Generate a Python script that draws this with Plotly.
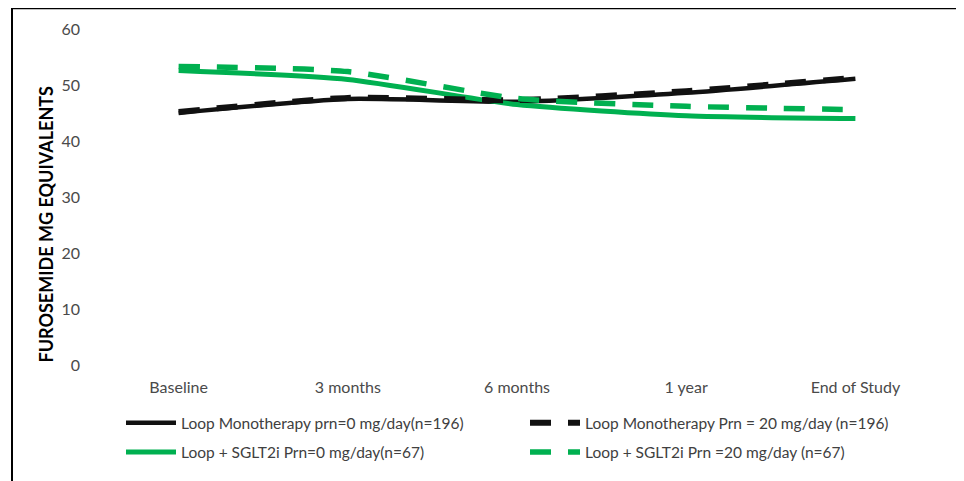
import plotly.graph_objects as go

categories = ["Baseline", "3 months", "6 months", "1 year", "End of Study"]
loop_mono_prn0 = [45.0, 47.5, 47.0, 48.6, 51.1]
loop_mono_prn20 = [45.2, 47.7, 47.3, 48.9, 51.3]
sglt2_prn0 = [52.6, 51.0, 46.5, 44.5, 44.0]
sglt2_prn20 = [53.3, 52.4, 47.6, 46.2, 45.6]

names = [
    "Loop Monotherapy prn=0 mg/day(n=196)",
    "Loop Monotherapy Prn = 20 mg/day (n=196)",
    "Loop + SGLT2i Prn=0 mg/day(n=67)",
    "Loop + SGLT2i Prn =20 mg/day (n=67)",
]
y_title = "FUROSEMIDE MG EQUIVALENTS"
y_ticks = [0, 10, 20, 30, 40, 50, 60]

BLACK = "#111111"
GREEN = "#00B050"
FONT = "Lato, Carlito, Calibri, sans-serif"
SMOOTH = 0.6

fig = go.Figure()
fig.add_trace(go.Scatter(x=categories, y=loop_mono_prn0, name=names[0], mode="lines",
                         line=dict(color=BLACK, width=4.5, shape="spline", smoothing=SMOOTH),
                         legend="legend", legendgroup="a"))
fig.add_trace(go.Scatter(x=categories, y=sglt2_prn0, name=names[2], mode="lines",
                         line=dict(color=GREEN, width=5, shape="spline", smoothing=SMOOTH),
                         legend="legend", legendgroup="b"))
fig.add_trace(go.Scatter(x=categories, y=loop_mono_prn20, name=names[1], mode="lines",
                         line=dict(color=BLACK, width=6, dash="21px,17px", shape="spline", smoothing=SMOOTH),
                         legend="legend2", legendgroup="c"))
fig.add_trace(go.Scatter(x=categories, y=sglt2_prn20, name=names[3], mode="lines",
                         line=dict(color=GREEN, width=5.5, dash="21px,17px", shape="spline", smoothing=SMOOTH),
                         legend="legend2", legendgroup="d"))

# page body has an 8px margin; work in page pixel coordinates and convert
OFF = 8
W, H = 964 - OFF, 481 - OFF
L = 94 - OFF
T = 29 - OFF
R = W - (940 - OFF)
B = H - (371 - OFF)
pw, ph = W - L - R, H - T - B

def px_x(x):
    return (x - OFF - L) / pw

def px_y(y):
    return (H - B - (y - OFF)) / ph

legend_common = dict(orientation="v", xanchor="left", yanchor="top",
                     font=dict(family=FONT, size=15.5, color="#404040"),
                     itemwidth=50, tracegroupgap=6, bgcolor="rgba(0,0,0,0)")

fig.update_layout(
    width=W, height=H,
    margin=dict(l=L, r=R, t=T, b=B),
    paper_bgcolor="white", plot_bgcolor="white",
    font=dict(family=FONT, size=16, color="#4a4a4a"),
    showlegend=True,
    legend=dict(x=px_x(121), y=px_y(413), **legend_common),
    legend2=dict(x=px_x(525), y=px_y(413), **legend_common),
    xaxis=dict(showgrid=False, zeroline=False, showline=False, ticks="",
               ticklabelstandoff=11,
               tickfont=dict(family=FONT, size=16, color="#4a4a4a"),
               range=[-0.5, 4.5]),
    yaxis=dict(range=[0, 60], tickvals=y_ticks, showgrid=False, zeroline=False,
               showline=False, ticks="", ticklabelstandoff=13,
               tickfont=dict(family=FONT, size=16, color="#4a4a4a")),
    shapes=[dict(type="rect", xref="paper", yref="paper",
                 x0=px_x(12), x1=px_x(958), y0=px_y(520), y1=px_y(8),
                 line=dict(color="black", width=2), fillcolor="rgba(0,0,0,0)", layer="above")],
    annotations=[dict(text="<b>" + y_title + "</b>", xref="paper", yref="paper",
                      x=px_x(46), y=px_y(228), textangle=-90, showarrow=False,
                      font=dict(family=FONT, size=18, color="black"),
                      xanchor="center", yanchor="middle")],
)

fig.write_html("out.html")
